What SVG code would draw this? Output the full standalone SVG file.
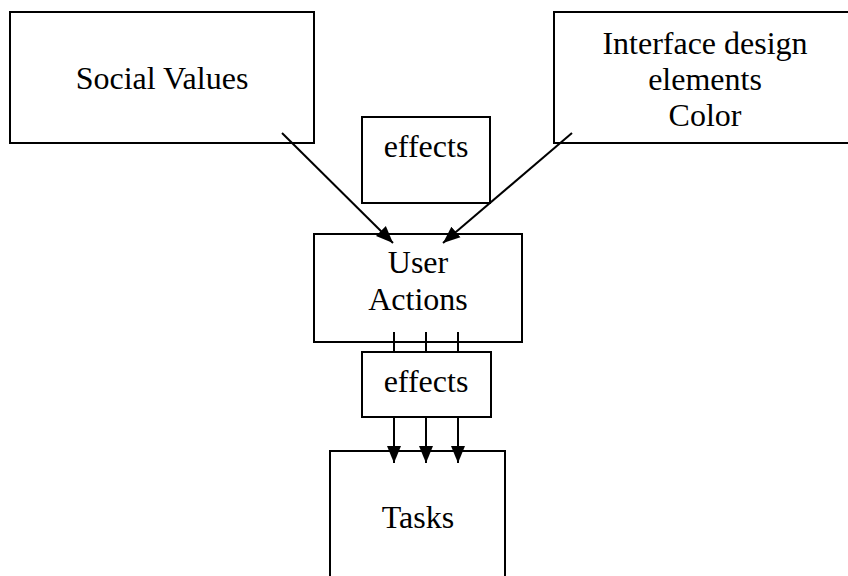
<svg xmlns="http://www.w3.org/2000/svg" width="848" height="576" viewBox="0 0 848 576">
<style>
.box{fill:none;stroke:#000;stroke-width:2}
.boxw{fill:#fff;stroke:#000;stroke-width:2}
.t{font-family:"Liberation Serif","Times New Roman",serif;font-size:32px;fill:#000;text-anchor:middle}
.c{stroke:#000;stroke-width:2;fill:none}
</style>
<defs>
<marker id="ah" markerUnits="userSpaceOnUse" markerWidth="18" markerHeight="16" viewBox="0 0 18 16" refX="17" refY="8" orient="auto">
<path d="M0,1 L17,8 L0,15 Z" fill="#000"/>
</marker>
</defs>
<rect width="848" height="576" fill="#fff"/>
<g id="social-values">
<rect class="box" x="10" y="12" width="304" height="131"/>
<text class="t" x="162" y="89">Social Values</text>
</g>
<g id="interface-design">
<rect class="box" x="554" y="12" width="302" height="131"/>
<text class="t" x="705" y="54">Interface design</text>
<text class="t" x="705" y="90">elements</text>
<text class="t" x="705" y="126">Color</text>
</g>
<g id="effects-top">
<rect class="box" x="362" y="117" width="128" height="86"/>
<text class="t" x="426" y="157">effects</text>
</g>
<g id="user-actions">
<rect class="box" x="314" y="234" width="208" height="108"/>
<text class="t" x="418" y="273">User</text>
<text class="t" x="418" y="310">Actions</text>
</g>
<g id="connectors">
<line class="c" x1="282" y1="133" x2="393" y2="243" marker-end="url(#ah)"/>
<line class="c" x1="572" y1="133" x2="443" y2="243" marker-end="url(#ah)"/>
<line class="c" x1="394" y1="332" x2="394" y2="463" marker-end="url(#ah)"/>
<line class="c" x1="426" y1="332" x2="426" y2="463" marker-end="url(#ah)"/>
<line class="c" x1="458" y1="332" x2="458" y2="463" marker-end="url(#ah)"/>
</g>
<g id="effects-bottom">
<rect class="boxw" x="362" y="352" width="129" height="65"/>
<text class="t" x="426" y="392">effects</text>
</g>
<g id="tasks">
<rect class="box" x="330" y="451" width="175" height="140"/>
<text class="t" x="418" y="528">Tasks</text>
</g>
</svg>
